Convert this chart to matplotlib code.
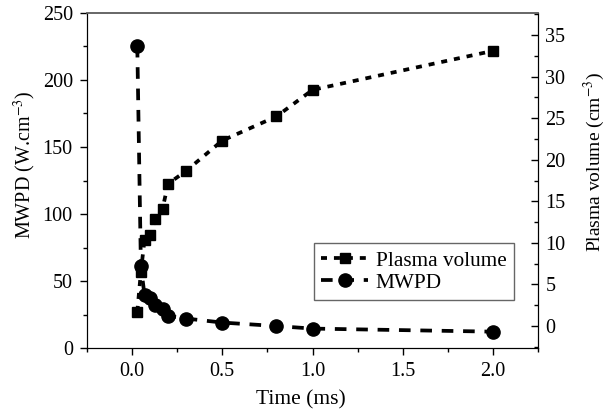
import matplotlib
matplotlib.use("Agg")
import matplotlib.pyplot as plt
from matplotlib.ticker import MultipleLocator, FormatStrFormatter

plt.rcParams['font.family'] = ['Liberation Serif', 'DejaVu Serif']
plt.rcParams['mathtext.fontset'] = 'stix'

time_ms = [0.03, 0.05, 0.07, 0.10, 0.13, 0.17, 0.20, 0.30, 0.50, 0.80, 1.00, 2.00]
mwpd = [225.5, 61, 39.5, 37, 32, 29, 24, 22, 19, 16.4, 14.5, 12.2]
plasma_volume = [1.7, 6.5, 10.4, 11.0, 12.9, 14.1, 17.1, 18.65, 22.3, 25.2, 28.4, 33.1]

fig = plt.figure(figsize=(6.05, 4.15), dpi=100)
ax1 = fig.add_axes([0.1433, 0.1614, 0.7466, 0.8073])
ax2 = ax1.twinx()
# circles sit on top of the squares
ax1.set_zorder(ax2.get_zorder() + 1)
ax1.patch.set_visible(False)

l2, = ax2.plot(time_ms, plasma_volume, color='k', marker='s', markersize=7.5,
               linewidth=2.7, linestyle=(0, (1.6, 1.85)), label='Plasma volume')
l1, = ax1.plot(time_ms, mwpd, color='k', marker='o', markersize=9.5,
               linewidth=2.7, linestyle=(0, (3.1, 2.6)), label='MWPD')

ax1.set_xlim(-0.25, 2.25)
ax1.set_ylim(0, 250)
ax2.set_ylim(-2.65, 37.65)

ax1.xaxis.set_major_locator(MultipleLocator(0.5))
ax1.xaxis.set_minor_locator(MultipleLocator(0.25))
ax1.yaxis.set_major_locator(MultipleLocator(50))
ax1.yaxis.set_minor_locator(MultipleLocator(25))
ax2.yaxis.set_major_locator(MultipleLocator(5))
ax2.yaxis.set_minor_locator(MultipleLocator(2.5))
ax1.xaxis.set_major_formatter(FormatStrFormatter('%.1f'))

ax1.tick_params(which='major', length=5, width=1, labelsize=14.5,
                direction='out', pad=5)
ax1.tick_params(which='minor', length=3, width=1, direction='out')
ax2.tick_params(which='major', length=5, width=1, labelsize=14.5,
                direction='in', pad=5)
ax2.tick_params(which='minor', length=3, width=1, direction='in')

for ax in (ax1, ax2):
    ax.spines['top'].set_color('#666666')
    ax.spines['top'].set_linewidth(1.2)

ax1.set_xlabel('Time (ms)', fontsize=15.5)
ax1.xaxis.set_label_coords(0.475, -0.125)
ax1.set_ylabel('MWPD (W.cm$^{-3}$)', fontsize=14.5)
ax1.yaxis.set_label_coords(-0.108, 0.546)
ax2.set_ylabel('Plasma volume (cm$^{-3}$)', fontsize=14)
ax2.yaxis.set_label_coords(1.095, 0.555)

leg = ax1.legend([l2, l1], ['Plasma volume', 'MWPD'], loc='lower left',
                 bbox_to_anchor=(0.503, 0.143), fontsize=15.3,
                 fancybox=False, framealpha=1, edgecolor='#666666',
                 handlelength=2.2, handletextpad=0.35, borderpad=0.35,
                 labelspacing=0.1, borderaxespad=0)
leg.get_frame().set_linewidth(1.0)
leg.set_zorder(5)

fig.savefig('out.png', dpi=100)
